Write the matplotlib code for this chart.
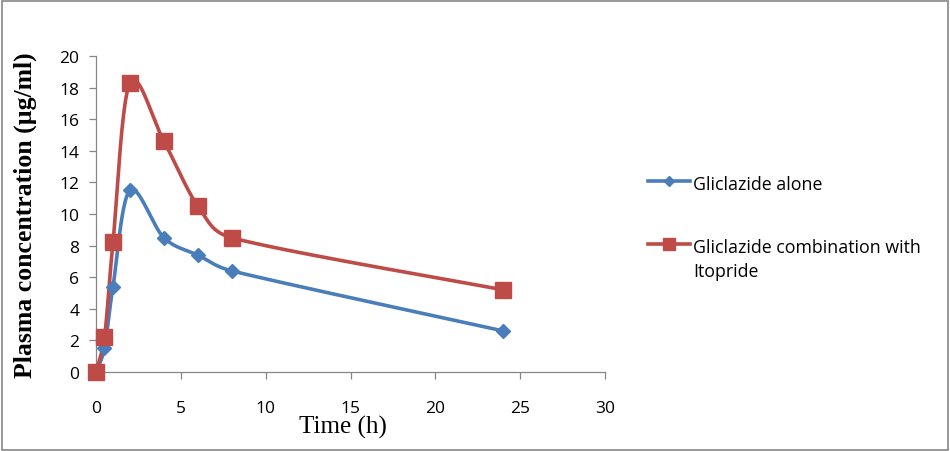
import numpy as np
import matplotlib
matplotlib.use("Agg")
import matplotlib.pyplot as plt
from matplotlib.lines import Line2D
from matplotlib.patches import Rectangle

time_h = [0, 0.5, 1, 2, 4, 6, 8, 24]
alone = [0, 1.5, 5.4, 11.5, 8.5, 7.4, 6.4, 2.6]
combo = [0, 2.2, 8.2, 18.3, 14.6, 10.5, 8.5, 5.2]
labels = ["Gliclazide alone", "Gliclazide combination with\nItopride"]
colors = ["#4A7EBB", "#BE4B48"]
xticks = [0, 5, 10, 15, 20, 25, 30]
yticks = [0, 2, 4, 6, 8, 10, 12, 14, 16, 18, 20]

W, H = 950, 452
AX_L, AX_R, AX_T, AX_B = 96, 605, 57, 373
SX = (AX_R - AX_L) / 30.0
SY = (AX_B - AX_T) / 20.0


def smooth(xs, ys, n=60):
    # Excel-style smoothed line (Bezier, Catmull-Rom tangents limited), in pixel space
    P = np.column_stack([np.asarray(xs, float) * SX, np.asarray(ys, float) * SY])
    out = []
    for i in range(len(P) - 1):
        p0 = P[i - 1] if i > 0 else P[i]
        p1, p2 = P[i], P[i + 1]
        p3 = P[i + 2] if i + 2 < len(P) else P[i + 1]
        seg_len = np.linalg.norm(p2 - p1)
        d1 = (p2 - p0) / 6
        d2 = (p3 - p1) / 6
        lim = seg_len * 0.45
        for d in (d1, d2):
            L = np.linalg.norm(d)
            if L > lim:
                d *= lim / L
        c1 = p1 + d1
        c2 = p2 - d2
        t = np.linspace(0, 1, n)[:, None]
        seg = ((1 - t) ** 3) * p1 + 3 * ((1 - t) ** 2) * t * c1 + 3 * (1 - t) * t ** 2 * c2 + t ** 3 * p2
        out.append(seg if i == 0 else seg[1:])
    s = np.vstack(out)
    return s[:, 0] / SX, s[:, 1] / SY


fig = plt.figure(figsize=(W / 100, H / 100), dpi=100)
fig.patch.set_facecolor("white")
ax = fig.add_axes([AX_L / W, 1 - AX_B / H, (AX_R - AX_L) / W, (AX_B - AX_T) / H])

tick_font = "Open Sans"
for ys, c, m, ms in [(alone, colors[0], "D", 7), (combo, colors[1], "s", 11)]:
    sx, sy = smooth(time_h, ys)
    ax.plot(sx, sy, color=c, lw=2.6, solid_capstyle="round", zorder=3, clip_on=False)
    ax.plot(time_h, ys, ls="none", marker=m, ms=ms, color=c, mec=c, zorder=4, clip_on=False)

ax.set_xlim(0, 30)
ax.set_ylim(0, 20)
ax.set_xticks(xticks)
ax.set_yticks(yticks)
for s in ["top", "right"]:
    ax.spines[s].set_visible(False)
for s in ["left", "bottom"]:
    ax.spines[s].set_color("#868686")
    ax.spines[s].set_linewidth(0.9)
ax.tick_params(axis="both", direction="out", length=5, width=0.9, color="#868686",
               labelsize=12.5, labelcolor="black")
ax.tick_params(axis="x", pad=15)
ax.tick_params(axis="y", pad=7)
for lab in ax.get_xticklabels() + ax.get_yticklabels():
    lab.set_fontfamily(tick_font)

fig.text(25 / W, 1 - 215 / H, "Plasma concentration (µg/ml)", rotation=90, ha="center", va="center",
         fontfamily="Liberation Serif", fontweight="bold", fontsize=18.5)
fig.text(343 / W, 1 - 427 / H, "Time (h)", ha="center", va="center",
         fontfamily="Liberation Serif", fontsize=18)

# legend
leg = [(182, colors[0], "D", 5.5, labels[0]), (245, colors[1], "s", 9, labels[1])]
for y, c, m, ms, txt in leg:
    yy = 1 - y / H
    fig.add_artist(Line2D([648 / W, 669 / W, 690 / W], [yy, yy, yy], color=c, lw=2.6,
                          marker=m, ms=ms, markevery=[1], mec=c, transform=fig.transFigure))
    fig.text(693 / W, yy + 0.014, txt, ha="left", va="top", fontfamily=tick_font,
             fontsize=12.8, linespacing=1.45)

fig.add_artist(Rectangle((1.5 / W, 1.5 / H), (W - 4) / W, (H - 3.5) / H, transform=fig.transFigure,
                         fill=False, edgecolor="#868686", lw=1.2))

fig.savefig("out.png", dpi=100)
